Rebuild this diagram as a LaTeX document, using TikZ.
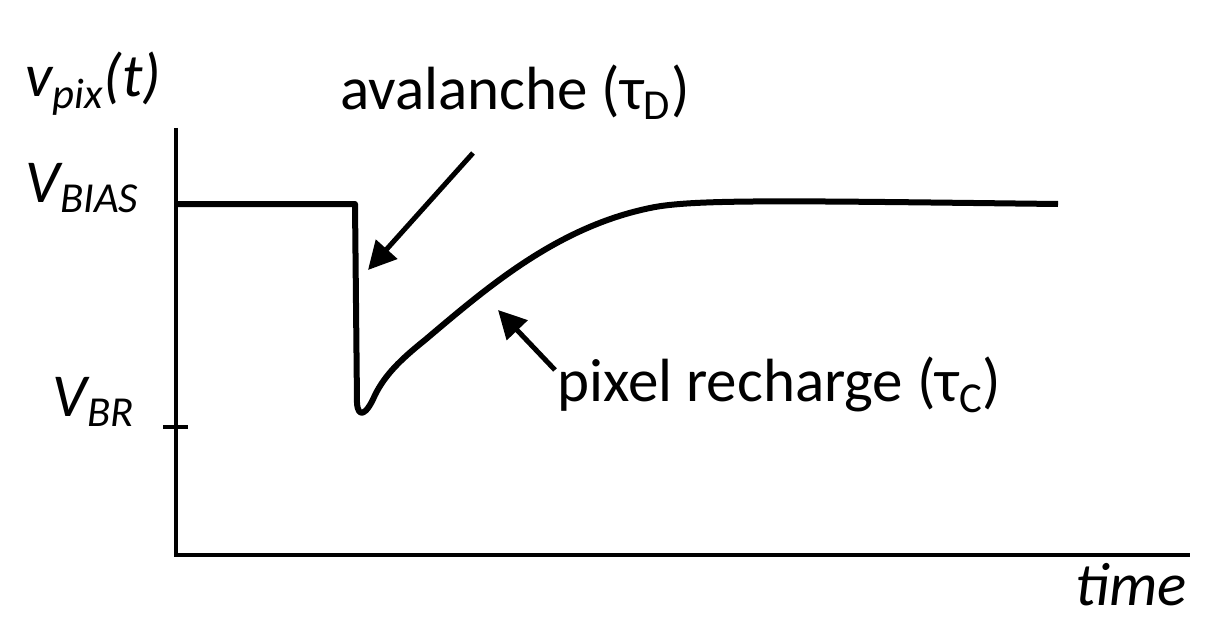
\documentclass[tikz,border=0pt]{standalone}
\usepackage{fontspec}
\setmainfont{Carlito}
\usetikzlibrary{arrows.meta}
\begin{document}
\begin{tikzpicture}[x=0.5pt,y=-0.5pt,
  lbl/.style={font=\fontsize{30.5}{34}\selectfont, inner sep=0pt},
  ax/.style={line width=2pt},
  arr/.style={line width=2.5pt,-{Triangle[length=14pt,width=14pt]}}]
\useasboundingbox (0,0) rectangle (1220,631);
\coordinate (yt) at (176,128); \coordinate (o) at (176,555); \coordinate (xe) at (1190,555);
\draw[ax] (yt) -- (o) -- (xe);
\coordinate (t1) at (163,427); \coordinate (t2) at (188,427);
\draw[ax] (t1) -- (t2);
\draw[line width=3pt, line join=round] (176,204) -- (355,204) -- (357,403)
  .. controls (358,418) and (366,416) .. (375,395)
  .. controls (385,375) and (400,360) .. (425,340)
  .. controls (490,285) and (560,225) .. (655,207)
  .. controls (700,199) and (800,201) .. (1058,204);
\coordinate (a1s) at (473,153); \coordinate (a1e) at (368,270);
\draw[arr] (a1s) -- (a1e);
\coordinate (a2s) at (555,370); \coordinate (a2e) at (498,310);
\draw[arr] (a2s) -- (a2e);
\node[lbl,anchor=west] (vp) at (25,84) {\textit{v\textsubscript{pix}(t)}};
\node[lbl,anchor=west] (vb) at (25,188) {\textit{V\textsubscript{BIAS}}};
\node[lbl,anchor=west] (vr) at (52,402) {\textit{V\textsubscript{BR}}};
\node[lbl,anchor=west] (av) at (340,92) {avalanche (τ\textsubscript{D})};
\node[lbl,anchor=west] (pr) at (557,385) {pixel recharge (τ\textsubscript{C})};
\node[lbl,anchor=west] (tm) at (1075,585) {\textit{time}};
\end{tikzpicture}
\end{document}
